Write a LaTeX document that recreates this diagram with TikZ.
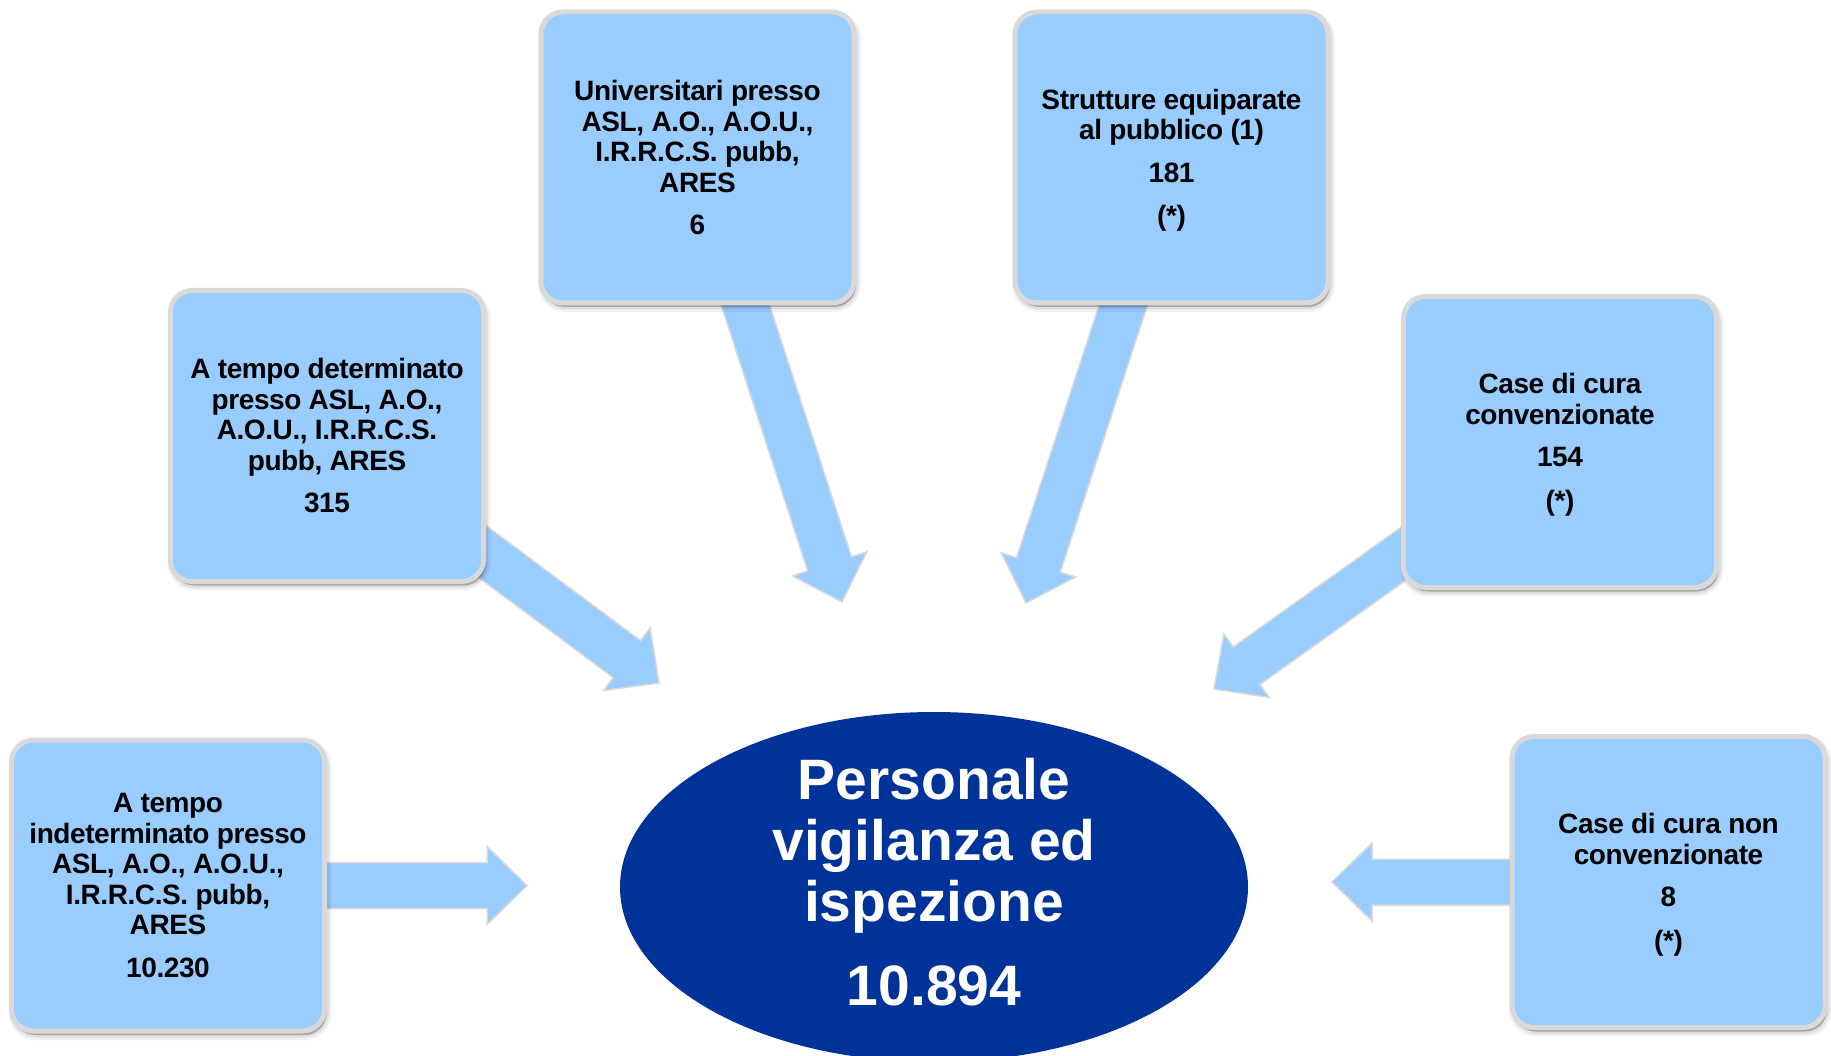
\documentclass[tikz,border=0pt]{standalone}
\usepackage{fontspec}
\setmainfont{Liberation Sans}
\newfontfamily\boxfam[LetterSpace=-1.5]{Liberation Sans}
\usetikzlibrary{calc,shapes.geometric,shadows}
\definecolor{boxfill}{HTML}{99CCFF}
\definecolor{boxline}{HTML}{D9D9D9}
\definecolor{ellfill}{HTML}{003399}
\pgfdeclarelayer{bg}
\pgfsetlayers{bg,main}
\newcommand\blockarrow[2]{%
  \coordinate (hb) at ($(#2)!40pt!(#1)$);
  \draw[flow] ($(#1)!23pt!90:(#2)$) -- ($(hb)!23pt!-90:(#1)$) -- ($(hb)!39pt!-90:(#1)$) -- (#2) -- ($(hb)!39pt!90:(#1)$) -- ($(hb)!23pt!90:(#1)$) -- ($(#1)!23pt!-90:(#2)$) -- cycle;}
\newcommand\nodepth[1]{\raisebox{0pt}[\height][0pt]{#1}}
\tikzset{
  box/.style={draw=boxline, line width=5pt, fill=boxfill, rounded corners=22pt,
    minimum width=313pt, minimum height=291pt, inner sep=0pt, align=center,
    font=\boxfam\bfseries\fontsize{28}{30.5}\selectfont, text=black,
    general shadow={shadow xshift=2pt, shadow yshift=-4pt, fill=black, draw=black, line width=10pt, opacity=0.05},
    general shadow={shadow xshift=2pt, shadow yshift=-4pt, fill=black, draw=black, line width=5pt, opacity=0.08},
    general shadow={shadow xshift=2pt, shadow yshift=-4pt, fill=black, draw=none, opacity=0.14}},
  ell/.style={ellipse, fill=ellfill, minimum width=628pt, minimum height=350pt,
    inner sep=-60pt, align=center, text=white,
    font=\bfseries\fontsize{57}{61}\selectfont},
  flow/.style={fill=boxfill, draw=boxline, line width=1.5pt, line join=miter}
}
\begin{document}
\begin{tikzpicture}[x=1pt,y=-1pt]
\useasboundingbox (0,0) rectangle (1831,1056);
\begin{pgfonlayer}{bg}
\fill[white] (0,0) rectangle (1831,1056);
\end{pgfonlayer}
\node[ell] (c) at (934,887) {Personale\\vigilanza ed\\ispezione\\[23pt]10.894\rule[-10pt]{0pt}{10pt}};
\node[box] (b1) at (168,885.5) {A tempo\\indeterminato presso\\ASL, A.O., A.O.U.,\\I.R.R.C.S. pubb,\\ARES\\[12pt]10.230};
\node[box] (b2) at (327,436) {A tempo determinato\\presso ASL, A.O.,\\A.O.U., I.R.R.C.S.\\pubb, ARES\\[12pt]315};
\node[box] (b3) at (697.5,157.5) {Universitari presso\\ASL, A.O., A.O.U.,\\I.R.R.C.S. pubb,\\ARES\\[12pt]6};
\node[box] (b4) at (1171.5,157.5) {Strutture equiparate\\al pubblico (1)\\[12pt]181\\[13pt]\nodepth{(*)}};
\node[box] (b5) at (1560,442) {Case di cura\\convenzionate\\[12pt]154\\[13pt]\nodepth{(*)}};
\node[box] (b6) at (1668.5,882) {Case di cura non\\convenzionate\\[12pt]8\\[13pt]\nodepth{(*)}};
\coordinate (t1) at (527,885.5);
\coordinate (t2) at (659,683);
\coordinate (t3) at (842,602);
\coordinate (t4) at (1026,603);
\coordinate (t5) at (1214,689);
\coordinate (t6) at (1332,882);
\begin{pgfonlayer}{bg}
\blockarrow{b1}{t1}
\blockarrow{b2}{t2}
\blockarrow{b3}{t3}
\blockarrow{b4}{t4}
\blockarrow{b5}{t5}
\blockarrow{b6}{t6}
\end{pgfonlayer}
\end{tikzpicture}
\end{document}
